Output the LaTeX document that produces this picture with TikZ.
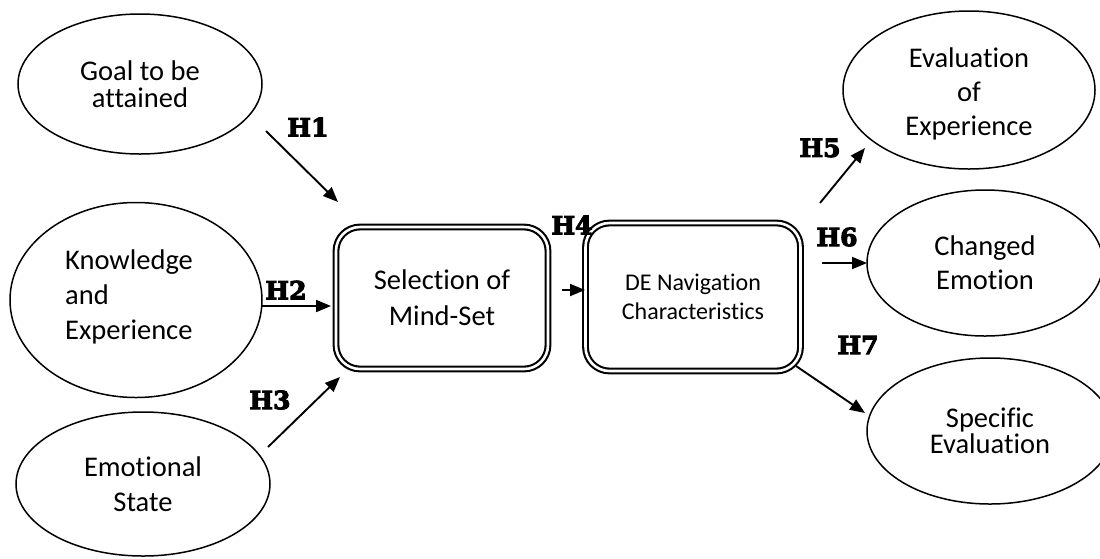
\documentclass[tikz,border=0pt]{standalone}
\usepackage{fontspec}
\setmainfont{Carlito}[Ligatures=NoCommon]
\newfontfamily\hypfont{DejaVu Serif Bold}[FakeBold=4]
\usetikzlibrary{shapes.geometric,arrows.meta}

\tikzset{
  oval/.style={ellipse, draw, line width=1.5pt, inner sep=0pt, align=center},
  dbox/.style={rectangle, rounded corners=24pt, draw, double, line width=2.1pt,
               double distance=2.6pt, inner sep=0pt, align=center},
  hlabel/.style={font=\hypfont\fontsize{25}{27}\selectfont, inner sep=0pt},
  link/.style={line width=1.9pt, -{Triangle[length=15pt,width=12pt]}},
}

\begin{document}
\begin{tikzpicture}[x=1pt,y=-1pt]
\useasboundingbox (0,0) rectangle (1100,558);

% antecedents
\node[oval, minimum width=244pt, minimum height=140pt,
      font=\fontsize{28.5}{27}\selectfont] (goal) at (140,84) {Goal to be\\attained};
\node[oval, minimum width=252pt, minimum height=195pt] (know) at (136,300) {};
\node[align=left, anchor=west, inner sep=0pt,
      font=\fontsize{28.5}{35}\selectfont] (knowtxt) at (65,297) {Knowledge\\and\\Experience};
\node[oval, minimum width=254pt, minimum height=144pt,
      font=\fontsize{28.5}{35}\selectfont] (emo) at (143,484) {Emotional\\State};

% central process boxes
\node[dbox, minimum width=212pt, minimum height=142pt,
      font=\fontsize{28.5}{36}\selectfont] (sel) at (442,298) {Selection of\\Mind-Set};
\node[dbox, minimum width=215pt, minimum height=148pt,
      font=\fontsize{24}{29}\selectfont] (nav) at (693,297) {DE Navigation\\Characteristics};

% outcomes
\node[oval, minimum width=252pt, minimum height=158pt] (eval) at (969,90) {};
\node[align=center, inner sep=0pt,
      font=\fontsize{28.5}{34}\selectfont] (evaltxt) at (969,94) {Evaluation\\of\\Experience};
\node[oval, minimum width=236pt, minimum height=146pt,
      font=\fontsize{28.5}{34}\selectfont] (chg) at (985,263) {Changed\\Emotion};
\node[oval, minimum width=246pt, minimum height=146pt,
      font=\fontsize{28.5}{26}\selectfont] (spec) at (990,431) {Specific\\Evaluation};

% arrow end points
\coordinate (a1s) at (266,131);  \coordinate (a1e) at (338,202);
\coordinate (a2s) at (262,306);  \coordinate (a2e) at (331,306);
\coordinate (a3s) at (268,447);  \coordinate (a3e) at (340,377);
\coordinate (a4s) at (562,290);  \coordinate (a4e) at (585,290);
\coordinate (a5s) at (820,203);  \coordinate (a5e) at (865,148);
\coordinate (a6s) at (822,263);  \coordinate (a6e) at (867,263);
\coordinate (a7s) at (796,366);  \coordinate (a7e) at (865,413);

\draw[link] (a1s) -- (a1e);
\draw[link] (a2s) -- (a2e);
\draw[link] (a3s) -- (a3e);
\draw[link] (a4s) -- (a4e);
\draw[link] (a5s) -- (a5e);
\draw[link] (a6s) -- (a6e);
\draw[link] (a7s) -- (a7e);

% hypothesis labels
\node[hlabel] (h1) at (308,127) {H1};
\node[hlabel] (h2) at (286,290) {H2};
\node[hlabel] (h3) at (270,400) {H3};
\node[hlabel] (h4) at (572,225) {H4};
\node[hlabel] (h5) at (820,148) {H5};
\node[hlabel] (h6) at (837,237) {H6};
\node[hlabel] (h7) at (858,345) {H7};
\end{tikzpicture}
\end{document}
